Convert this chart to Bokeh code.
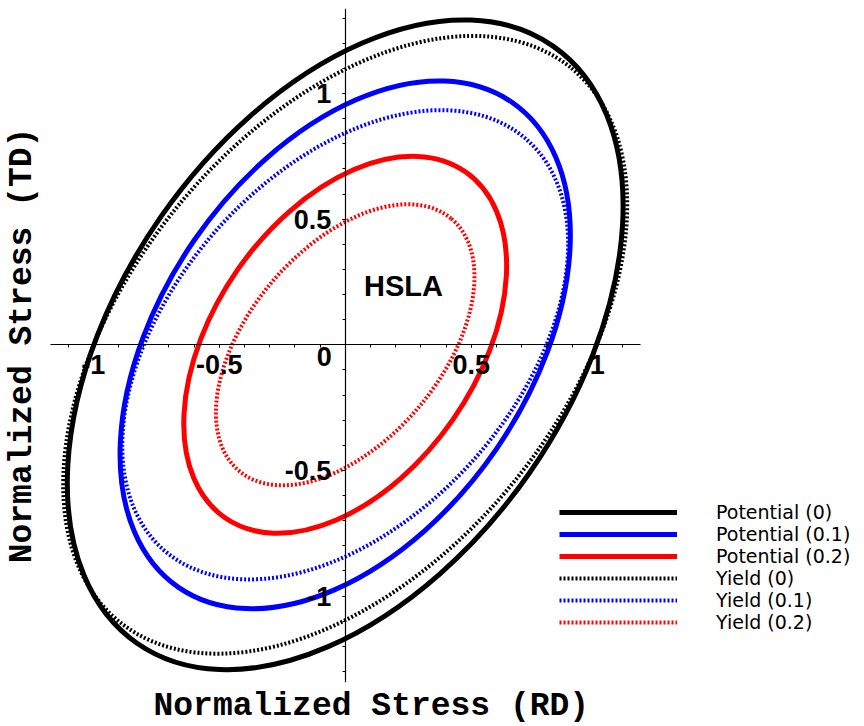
import numpy as np
from bokeh.plotting import figure
from bokeh.models import (LinearAxis, FixedTicker, Range1d, Legend, LegendItem,
                          Label, Title, ColumnDataSource)
from bokeh.embed import file_html
from bokeh.resources import INLINE

# ---- data (normalized stress space, centred ellipses) ----
curve_labels = ["Potential (0)", "Potential (0.1)", "Potential (0.2)",
                "Yield (0)", "Yield (0.1)", "Yield (0.2)"]
semi_major = [1.444, 1.168, 0.836, 1.418, 1.087, 0.654]
semi_minor = [0.893, 0.731, 0.522, 0.865, 0.686, 0.384]
tilt_deg = [55.1, 55.5, 55.2, 50.7, 48.4, 49.9]

x_major_ticks = [-1, -0.5, 0.5, 1]
x_tick_labels = ["-1", "-0.5", "0.5", "1"]
y_major_ticks = [-1, -0.5, 0.5, 1]
y_tick_labels = ["-1", "-0.5", "0.5", "1"]
x_minor_ticks = [-1.1, -1.0, -0.9, -0.8, -0.7, -0.6, -0.5, -0.4, -0.3, -0.2, -0.1,
                 0.1, 0.2, 0.3, 0.4, 0.5, 0.6, 0.7, 0.8, 0.9, 1.0, 1.1]
y_minor_ticks = [-1.3, -1.2, -1.1, -1.0, -0.9, -0.8, -0.7, -0.6, -0.5, -0.4, -0.3, -0.2, -0.1,
                 0.1, 0.2, 0.3, 0.4, 0.5, 0.6, 0.7, 0.8, 0.9, 1.0, 1.1, 1.2, 1.3]

# ---- styles ----
line_colors = ["#000000", "#0000ff", "#ff0000", "#000000", "#0000ff", "#ff0000"]
line_widths = [5, 5, 5, 4, 4, 4]
line_dashes = ["solid", "solid", "solid", "2 2", "2 2", "2 2"]

p = figure(frame_width=819, frame_height=674,
           min_border_left=37, min_border_right=0, min_border_top=8, min_border_bottom=44,
           x_range=Range1d(-1.2012, 2.0488), y_range=Range1d(-1.3438, 1.3382),
           x_axis_location=None, y_axis_location=None,
           toolbar_location=None, output_backend="svg")
p.outline_line_color = None
p.background_fill_color = "#ffffff"
p.border_fill_color = "#ffffff"
p.grid.visible = False

# x title (offset so it sits where the reference puts it)
xt = Title(text="Normalized Stress (RD)", align="left", offset=111, standoff=7,
           text_font="Liberation Mono", text_font_style="bold", text_font_size="33px",
           text_color="#000000")
p.add_layout(xt, "below")

# y title via an outer axis without ticks
ty = LinearAxis(ticker=FixedTicker(ticks=[]), axis_label="Normalized Stress (TD)",
                axis_line_color=None, major_tick_line_color=None, minor_tick_line_color=None,
                major_tick_out=0, minor_tick_out=0, major_tick_in=0, minor_tick_in=0,
                major_label_standoff=0, axis_label_standoff=2,
                axis_label_text_font="Liberation Mono", axis_label_text_font_style="bold",
                axis_label_text_font_size="33px", axis_label_text_color="#000000")
p.add_layout(ty, "left")

# crossing axes through the origin
tick_font = dict(major_label_text_font="Liberation Sans", major_label_text_font_style="bold",
                 major_label_text_font_size="27px", major_label_text_color="#000000")
xa = LinearAxis(fixed_location=0, bounds=(-1.17, 1.17),
                ticker=FixedTicker(ticks=x_major_ticks, minor_ticks=x_minor_ticks),
                major_label_overrides=dict(zip(x_major_ticks, x_tick_labels)),
                axis_line_color="#000000", axis_line_width=1.2,
                major_tick_in=0, major_tick_out=3, minor_tick_in=0, minor_tick_out=3,
                major_tick_line_color="#000000", minor_tick_line_color="#000000",
                major_label_standoff=7, **tick_font)
ya = LinearAxis(fixed_location=0, bounds=(-1.345, 1.34),
                ticker=FixedTicker(ticks=y_major_ticks, minor_ticks=y_minor_ticks),
                major_label_overrides=dict(zip(y_major_ticks, y_tick_labels)),
                axis_line_color="#000000", axis_line_width=1.2,
                major_tick_in=0, major_tick_out=3, minor_tick_in=0, minor_tick_out=3,
                major_tick_line_color="#000000", minor_tick_line_color="#000000",
                major_label_standoff=11, **tick_font)
p.add_layout(xa, "below")
p.add_layout(ya, "left")

# curves
items = []
for i, lab in enumerate(curve_labels):
    src = ColumnDataSource(dict(x=[0.0], y=[0.0], w=[2 * semi_major[i]], h=[2 * semi_minor[i]],
                                a=[tilt_deg[i]]))
    p.ellipse(x="x", y="y", width="w", height="h", angle="a", angle_units="deg", source=src,
              fill_color=None, line_color=line_colors[i], line_width=line_widths[i],
              line_dash=line_dashes[i])
    # legend proxy: a line renderer holding no drawable point
    leg = p.line(x=[np.nan], y=[np.nan], line_color=line_colors[i], line_width=line_widths[i],
                 line_dash=line_dashes[i])
    items.append(LegendItem(label=lab, renderers=[leg]))

legend = Legend(items=items, location=(517, 49), orientation="vertical",
                glyph_width=118, glyph_height=22, label_height=22, label_standoff=39,
                spacing=0, padding=0, margin=0, border_line_color=None,
                background_fill_alpha=0, label_text_font="DejaVu Sans",
                label_text_font_size="19px", label_text_color="#000000")
p.add_layout(legend, "center")

# annotations
p.add_layout(Label(x=0.231, y=0.233, text="HSLA", text_align="center", text_baseline="middle",
                   text_font="Liberation Sans", text_font_style="bold", text_font_size="29px",
                   text_color="#000000"))
p.add_layout(Label(x=-0.083, y=-0.047, text="0", text_align="center", text_baseline="middle",
                   text_font="Liberation Sans", text_font_style="bold", text_font_size="27px",
                   text_color="#000000"))

open("out.html", "w").write(file_html(p, INLINE))
